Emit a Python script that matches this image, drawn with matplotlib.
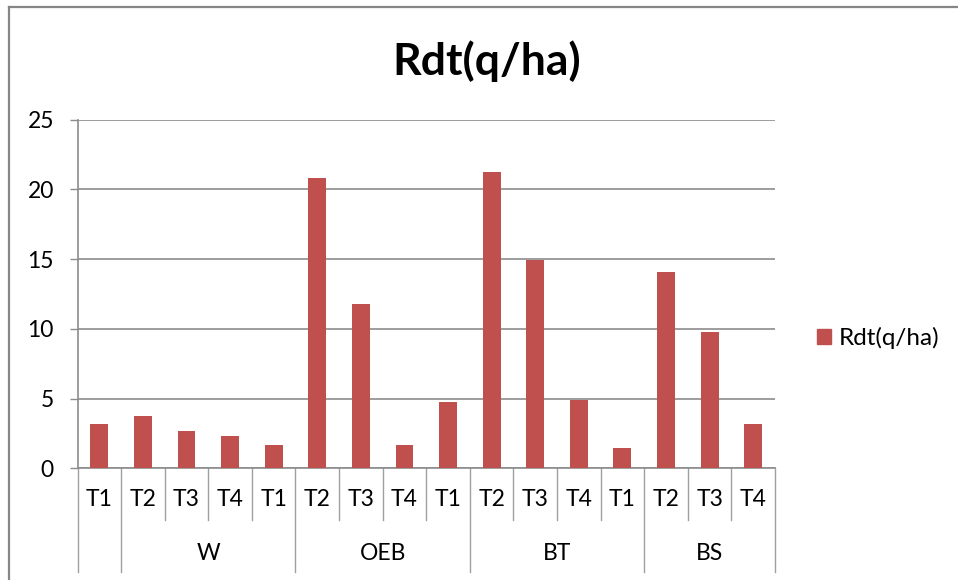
import matplotlib
matplotlib.use("Agg")
import matplotlib.pyplot as plt
from matplotlib.lines import Line2D
from matplotlib.patches import Patch
import matplotlib.transforms as mtransforms

plt.rcParams['font.family'] = ['Lato', 'DejaVu Sans']

# Data
treatments = ["T1", "T2", "T3", "T4", "T1", "T2", "T3", "T4",
              "T1", "T2", "T3", "T4", "T1", "T2", "T3", "T4"]
values = [3.18, 3.73, 2.70, 2.34, 1.69, 20.83, 11.81, 1.69,
          4.73, 21.23, 14.94, 4.90, 1.43, 14.10, 9.80, 3.18]
groups = ["", "W", "OEB", "BT", "BS"]
group_sizes = [1, 4, 4, 4, 3]
series_name = "Rdt(q/ha)"
yticks = [0, 5, 10, 15, 20, 25]

BAR = "#C0504D"
GRID = "#8C8C8C"
W, H = 958, 580
FS = 16.5

fig = plt.figure(figsize=(W / 100, H / 100), dpi=100)
fig.patch.set_facecolor("white")

left, right, bottom, top = 77.5, 775.0, 468.3, 119.7
ax = fig.add_axes([left / W, 1 - bottom / H, (right - left) / W, (bottom - top) / H])

x = list(range(len(values)))
ax.bar(x, values, width=0.41, color=BAR, zorder=3)

ax.set_xlim(-0.5, len(values) - 0.5)
ax.set_ylim(0, 25)
ax.set_yticks(yticks)
ax.set_yticklabels([str(v) for v in yticks])
ax.yaxis.grid(True, color=GRID, linewidth=1.2, zorder=0)
ax.set_axisbelow(True)
ax.tick_params(axis='y', direction='out', length=6, width=1, color=GRID,
               pad=11, labelsize=FS, labelcolor="black")
ax.set_xticks([])
for s in ["top", "right"]:
    ax.spines[s].set_visible(False)
for s in ["left", "bottom"]:
    ax.spines[s].set_color(GRID)
    ax.spines[s].set_linewidth(1.2)

# Two-level category axis
trans = mtransforms.blended_transform_factory(ax.transData, ax.transAxes)
y_short = (bottom - 520.0) / (bottom - top)
y_long = (bottom - 571.7) / (bottom - top)
y_tlab = (bottom - 500.0) / (bottom - top)
y_glab = (bottom - 554.0) / (bottom - top)

long_bounds = [0]
acc = 0
for n in group_sizes:
    acc += n
    long_bounds.append(acc)

for i in range(len(values) + 1):
    yend = y_long if i in long_bounds else y_short
    ax.add_line(Line2D([i - 0.5, i - 0.5], [0, yend], transform=trans,
                       color="#A0A0A0", linewidth=1.0, clip_on=False))

for i, t in enumerate(treatments):
    ax.text(i, y_tlab, t, transform=trans, ha="center", va="center",
            fontsize=FS, color="black")

start = 0
for g, n in zip(groups, group_sizes):
    if g:
        ax.text(start + (n - 1) / 2, y_glab, g, transform=trans,
                ha="center", va="center", fontsize=FS, color="black")
    start += n

# Title
fig.text(487 / W, 1 - 61 / H, series_name, ha="center", va="center",
         fontsize=32, fontweight="bold", color="black")

# Legend
handle = Patch(facecolor=BAR, edgecolor=BAR)
fig.legend([handle], [series_name], loc="center left",
           bbox_to_anchor=(817 / W, 1 - 338 / H), frameon=False,
           fontsize=17.5, handlelength=0.57, handleheight=0.57,
           handletextpad=0.33, borderpad=0, borderaxespad=0)

# Chart frame (left and top edges)
fig.add_artist(Line2D([8.5 / W, 8.5 / W], [0, 1 - 6.5 / H], transform=fig.transFigure,
                      color="#868686", linewidth=1.6))
fig.add_artist(Line2D([8.5 / W, 1.0], [1 - 6.5 / H, 1 - 6.5 / H], transform=fig.transFigure,
                      color="#868686", linewidth=1.6))

fig.savefig("out.png", dpi=100, facecolor="white")
